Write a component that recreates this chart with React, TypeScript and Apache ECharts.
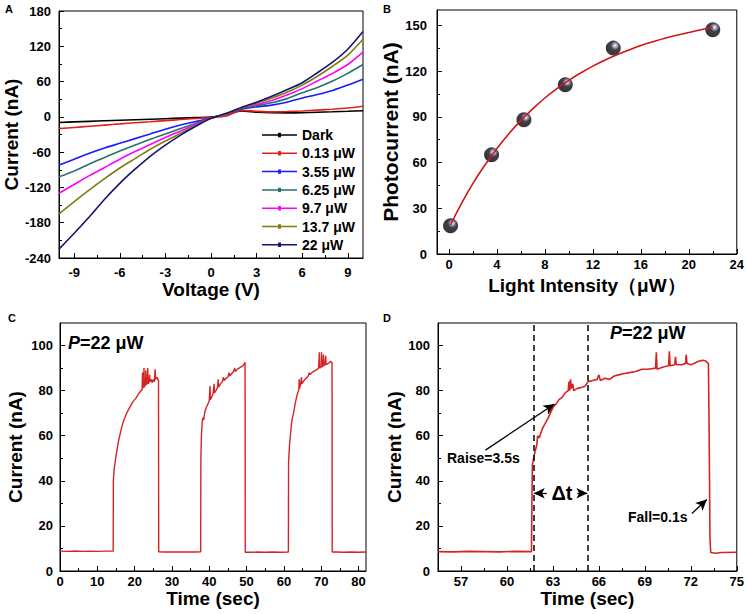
import React, { useEffect, useRef } from "react";
import * as echarts from "echarts";

const FONT = '"Liberation Sans", Arial, Helvetica, sans-serif';

// ---------- Panel A: I-V curves ----------
const voltages = [-10, -9, -8, -7, -6, -5, -4, -3, -2, -1, 0, 1, 2, 3, 4, 5, 6, 7, 8, 9, 10];
const ivNames = ["Dark", "0.13 μW", "3.55 μW", "6.25 μW", "9.7 μW", "13.7 μW", "22 μW"];
const ivColors = ["#000000", "#e0201c", "#1a1aff", "#2a7070", "#ff00ff", "#7d7d0e", "#14146e"];
const ivDark = [-9.5, -8.5, -7.6, -6.7, -5.8, -4.9, -4, -3.1, -2.2, -1.3, -0.5, 4, 10, 8, 7, 6.8, 7, 7.8, 8.6, 9.5, 10.5];
const iv013 = [-20, -18, -16, -14, -12, -10, -8.2, -6.4, -4.6, -2.8, -1, 1.5, 11, 9.5, 8.5, 9, 10, 11.5, 13, 15, 18];
const iv355 = [-82, -72, -62, -53, -45, -37, -29, -21, -14, -8, -2.5, 5, 13, 17, 20, 25, 32, 38, 45, 54, 64];
const iv625 = [-102, -92, -80, -69, -58, -48, -38, -29, -20, -11, -2.5, 5, 14, 19, 24, 31, 41, 50, 61, 74, 89];
const iv97 = [-130, -115, -100, -86, -72, -59, -47, -35, -24, -13, -2.5, 5, 15, 21, 28, 37, 48, 61, 74, 89, 110];
const iv137 = [-165, -144, -124, -105, -87, -71, -55, -41, -28, -15, -2.5, 5, 15, 23, 32, 42, 54, 69, 86, 105, 132];
const iv22 = [-225, -198, -170, -140, -113, -89, -67, -48, -31, -16, -2.5, 6, 16, 25, 35, 46, 58, 75, 93, 115, 145];
const ivValues = [ivDark, iv013, iv355, iv625, iv97, iv137, iv22];
const aXTicks = [-9, -6, -3, 0, 3, 6, 9];
const aYTicks = [-240, -180, -120, -60, 0, 60, 120, 180];

// ---------- Panel B: photocurrent vs light intensity ----------
const lightIntensity = [0.13, 3.55, 6.25, 9.7, 13.7, 22];
const photocurrent = [18.5, 65, 88, 111, 135, 147];
const fitIntensity = [0.13, 1, 2, 3, 4, 5, 6, 7, 8, 9, 10, 11, 12, 13, 14, 15, 16, 17, 18, 19, 20, 21, 22];
const fitCurrent = [19, 32.5, 46.3, 58.4, 69.2, 78.9, 87.6, 95.3, 102.3, 108.4, 113.9, 118.8, 123.2, 127.1, 130.7, 133.8, 136.7, 139.2, 141.5, 143.5, 145.3, 147, 148.5];
const bXTicks = [0, 4, 8, 12, 16, 20, 24];
const bYTicks = [0, 30, 60, 90, 120, 150];

// ---------- Panel C: on/off cycles ----------
const cTrace = [
  [0, 8.8], [2, 8.7], [4, 8.9], [6, 8.7], [8, 8.8], [10, 8.7], [12, 8.8], [14.25, 8.8],
  [14.3, 40], [14.5, 45], [15, 51], [15.5, 56], [16, 60], [16.5, 63.5], [17, 66.5], [17.5, 68.5], [18, 70.5],
  [18.5, 72], [19, 73.5], [19.5, 75], [20, 76], [20.5, 77], [21, 78.5], [21.5, 79.5], [22, 80.5], [22.1, 88],
  [22.2, 81], [22.4, 82], [22.5, 90], [22.6, 81.5], [22.9, 83], [23.0, 89], [23.1, 82.5], [23.4, 84], [23.5, 90],
  [23.6, 83], [23.9, 84], [24.0, 87], [24.1, 84], [24.5, 85], [24.7, 83.5], [25.0, 85], [25.3, 84], [25.5, 89.5],
  [25.6, 85], [26.0, 86], [26.2, 85], [26.4, 84.5], [26.45, 8.5],
  [28, 8.4], [30, 8.5], [32, 8.4], [34, 8.5], [36, 8.4], [37.7, 8.5],
  [37.75, 50], [37.9, 60], [38.1, 66], [38.3, 68], [38.5, 67], [38.8, 70.5], [39.2, 72.5], [39.6, 74], [40, 75.5],
  [40.2, 82], [40.3, 76], [40.6, 77], [41.0, 78.5], [41.3, 83], [41.4, 79], [41.8, 80], [42.2, 81.5], [42.4, 85],
  [42.5, 81.5], [43, 83], [43.5, 84], [43.8, 86], [44, 84.5], [44.5, 85.5], [45, 86], [45.3, 88], [45.5, 86.5],
  [46, 87.5], [46.5, 88.5], [46.8, 90], [47, 88.5], [47.5, 89.5], [48, 90], [48.5, 90.5], [49, 91], [49.4, 92],
  [49.6, 92.5], [49.65, 8.3],
  [51, 8.3], [53, 8.4], [55, 8.3], [57, 8.4], [59, 8.3], [61.2, 8.4],
  [61.25, 48], [61.5, 56], [61.8, 61], [62.0, 65], [62.3, 68], [62.7, 71], [63.0, 74], [63.3, 76.5], [63.7, 79],
  [64.0, 80.5], [64.1, 85], [64.2, 81], [64.5, 83], [64.7, 86], [64.8, 83], [65.2, 84], [65.6, 85], [66, 85.5],
  [66.5, 86.5], [66.8, 88], [67, 87], [67.5, 88], [68, 88.5], [68.5, 89], [69, 89.5], [69.3, 90], [69.5, 97],
  [69.6, 90], [70, 90.5], [70.1, 97], [70.2, 90.5], [70.5, 91], [70.6, 96], [70.7, 91], [71, 91.5], [71.2, 95.5],
  [71.3, 91.5], [71.8, 92], [72.2, 92.5], [72.5, 93], [72.9, 92.5], [72.95, 8.4],
  [74, 8.4], [76, 8.3], [78, 8.4], [80, 8.3], [82, 8.4],
];
const cXTicks = [0, 10, 20, 30, 40, 50, 60, 70, 80];
const cYTicks = [0, 20, 40, 60, 80, 100];

// ---------- Panel D: single cycle ----------
const dTrace = [
  [55.5, 8.6], [56.5, 8.5], [57.5, 8.7], [58.5, 8.6], [59.5, 8.5], [60.5, 8.7], [61.6, 8.6],
  [61.63, 30], [61.66, 47], [61.8, 52], [61.95, 56], [62.0, 60], [62.1, 59], [62.3, 63], [62.5, 65.5], [62.7, 68],
  [62.9, 71], [63.05, 73], [63.2, 74], [63.4, 76], [63.6, 77], [63.8, 79], [64.0, 80], [64.05, 84], [64.1, 80],
  [64.15, 85], [64.2, 81], [64.3, 83], [64.35, 80], [64.6, 81], [64.9, 81.5], [65.1, 82], [65.3, 84], [65.6, 84.5],
  [65.9, 85], [66.0, 87], [66.1, 84.5], [66.4, 85.5], [66.7, 85], [67.0, 86.5], [67.3, 87], [67.6, 87.5], [68.0, 88],
  [68.4, 88.5], [68.8, 89.5], [69.2, 89.5], [69.7, 90], [69.75, 97], [69.8, 89.5], [70.2, 90.5], [70.55, 91],
  [70.6, 97.5], [70.65, 91], [70.95, 91.5], [71.0, 95], [71.05, 91.5], [71.4, 91.5], [71.65, 92], [71.7, 96],
  [71.75, 92], [72.0, 91.5], [72.2, 92], [72.5, 93], [72.8, 93.5], [73.0, 93], [73.15, 92], [73.2, 60], [73.25, 15],
  [73.3, 8.2], [73.6, 7.9], [74, 8.2], [75, 8.3],
];
const dXTicks = [57, 60, 63, 66, 69, 72, 75];
const dYTicks = [0, 20, 40, 60, 80, 100];
const dDashedTimes = [61.75, 65.25];
const dDeltaY = 34.5;
const dDeltaArrows = [[62.6, 61.75], [64.6, 65.25]];
const dRaiseArrow = [[58.6, 53.6], [63.1, 74.1]];
const dFallArrow = [[72.07, 25.5], [73.05, 31.7]];

const RED = "#d42424";
const LEGEND_ICON = "path://M0,1.5 L36,1.5 L36,3 L0,3 Z M16.5,0 L19.5,0 L19.5,4.5 L16.5,4.5 Z";

function minorOf(ticks: number[], min: number, max: number) {
  const out: number[] = [];
  const step = ticks[1] - ticks[0];
  const first = ticks[0] - step / 2;
  for (let v = first; v < max + 1e-9; v += step) {
    if (v > min + 1e-9 && v < max - 1e-9) out.push(v);
  }
  return out;
}

function axes(
  dim: "x" | "y",
  gridIndex: number,
  min: number,
  max: number,
  ticks: number[],
  labelMargin: number,
  name: string,
  nameGap: number,
  nameSize: number
) {
  const major = {
    type: "value",
    gridIndex,
    min,
    max,
    position: dim === "x" ? "bottom" : "left",
    name,
    nameLocation: "middle",
    nameGap,
    nameTextStyle: { fontFamily: FONT, fontWeight: "bold", fontSize: nameSize, color: "#000" },
    axisLine: { show: true, onZero: false, lineStyle: { color: "#000", width: 1 } },
    axisTick: { show: true, inside: true, length: 5, customValues: ticks, lineStyle: { color: "#000", width: 1 } },
    axisLabel: { customValues: ticks, margin: labelMargin, fontFamily: FONT, fontWeight: "bold", fontSize: 13, color: "#000" },
    splitLine: { show: false },
  };
  const minor = {
    type: "value",
    gridIndex,
    min,
    max,
    position: dim === "x" ? "bottom" : "left",
    axisLine: { show: false, onZero: false },
    axisTick: { show: true, inside: true, length: 3, customValues: minorOf(ticks, min, max), lineStyle: { color: "#000", width: 1 } },
    axisLabel: { show: false },
    splitLine: { show: false },
  };
  return [major, minor];
}

const textStyle = (size: number) => ({ fontFamily: FONT, fontWeight: "bold", fontSize: size, fill: "#000" });

const pText = (x: number, y: number) => ({
  type: "text",
  x,
  y,
  style: {
    text: "{i|P}{b|=22 μW}",
    verticalAlign: "middle",
    rich: {
      i: { fontFamily: FONT, fontWeight: "bold", fontStyle: "italic", fontSize: 18, fill: "#000" },
      b: { fontFamily: FONT, fontWeight: "bold", fontSize: 18, fill: "#000" },
    },
  },
});

export default function App() {
  const ref = useRef<HTMLDivElement>(null);
  useEffect(() => {
    if (!ref.current) return;
    const chart = echarts.init(ref.current, undefined, { renderer: "svg" });

    const grids = [
      { left: 59, top: 11, width: 304, height: 247 },
      { left: 437, top: 10, width: 300, height: 244 },
      { left: 60, top: 323, width: 306, height: 248 },
      { left: 438, top: 323, width: 299, height: 248 },
    ].map((g) => ({ ...g, show: true, borderColor: "#000", borderWidth: 1, backgroundColor: "transparent" }));

    const xAxis = [
      ...axes("x", 0, -10, 10, aXTicks, 8, "Voltage (V)", 17, 19),
      ...axes("x", 1, -1, 24, bXTicks, 4, "Light Intensity（μW）", 22, 19),
      ...axes("x", 2, 0, 82, cXTicks, 4, "Time (sec)", 13, 19),
      ...axes("x", 3, 55.5, 75, dXTicks, 4, "Time (sec)", 13, 19),
    ];
    const yAxis = [
      ...axes("y", 0, -240, 180, aYTicks, 8, "Current (nA)", 36, 19),
      ...axes("y", 1, 0, 160, bYTicks, 10, "Photocurrent (nA)", 36, 21),
      ...axes("y", 2, 0, 110, cYTicks, 7, "Current (nA)", 35, 19),
      ...axes("y", 3, 0, 110, dYTicks, 8, "Current (nA)", 28, 19),
    ];

    const ivSeries = ivNames.map((n, i) => ({
      name: n,
      type: "line",
      xAxisIndex: 0,
      yAxisIndex: 0,
      data: voltages.map((v, k) => [v, ivValues[i][k]]),
      smooth: 0.25,
      symbol: "circle",
      symbolSize: 3,
      showSymbol: false,
      lineStyle: { color: ivColors[i], width: 1.6 },
      itemStyle: { color: ivColors[i] },
      z: 2 + i,
    }));

    const arrowLine = (a: number[], b: number[]) => [
      { coord: a, symbol: "none" },
      { coord: b, symbol: "arrow", symbolSize: [8, 11] },
    ];

    const option: any = {
      animation: false,
      backgroundColor: "#fff",
      grid: grids,
      xAxis,
      yAxis,
      legend: {
        data: ivNames.map((n) => ({ name: n, icon: LEGEND_ICON })),
        orient: "vertical",
        left: 257,
        top: 122,
        itemWidth: 35,
        itemHeight: 4.5,
        itemGap: 2.3,
        textStyle: { fontFamily: FONT, fontWeight: "bold", fontSize: 14, lineHeight: 16, color: "#000" },
        selectedMode: false,
      },
      series: [
        ...ivSeries,
        {
          type: "line",
          xAxisIndex: 2,
          yAxisIndex: 2,
          data: fitIntensity.map((x, i) => [x, fitCurrent[i]]),
          smooth: true,
          showSymbol: false,
          lineStyle: { color: "#d41414", width: 1.6 },
          z: 5,
        },
        {
          type: "scatter",
          xAxisIndex: 2,
          yAxisIndex: 2,
          data: lightIntensity.map((x, i) => [x, photocurrent[i]]),
          symbol: "circle",
          symbolSize: 15,
          itemStyle: {
            color: new echarts.graphic.RadialGradient(0.62, 0.33, 0.7, [
              { offset: 0, color: "#ffffff" },
              { offset: 0.16, color: "#a0a0c0" },
              { offset: 0.42, color: "#101020" },
              { offset: 1, color: "#000000" },
            ]),
          },
          z: 4,
        },
        {
          type: "line",
          xAxisIndex: 4,
          yAxisIndex: 4,
          data: cTrace,
          showSymbol: false,
          lineStyle: { color: RED, width: 1.4 },
        },
        {
          type: "line",
          xAxisIndex: 6,
          yAxisIndex: 6,
          data: dTrace,
          showSymbol: false,
          lineStyle: { color: RED, width: 1.6 },
          markLine: {
            silent: true,
            symbol: ["none", "none"],
            label: { show: false },
            lineStyle: { color: "#000", width: 1.3, type: "solid" },
            data: [
              ...dDashedTimes.map((t) => ({ xAxis: t, lineStyle: { color: "#111", width: 1.6, type: [6, 4] } })),
              arrowLine([dDeltaArrows[0][0], dDeltaY], [dDeltaArrows[0][1], dDeltaY]),
              arrowLine([dDeltaArrows[1][0], dDeltaY], [dDeltaArrows[1][1], dDeltaY]),
              arrowLine(dRaiseArrow[0], dRaiseArrow[1]),
              arrowLine(dFallArrow[0], dFallArrow[1]),
            ],
          },
        },
      ],
      graphic: [
        { type: "text", left: 5, top: 3, style: { text: "A", ...textStyle(11) } },
        { type: "text", left: 383, top: 3, style: { text: "B", ...textStyle(11) } },
        { type: "text", left: 8, top: 312, style: { text: "C", ...textStyle(11) } },
        { type: "text", left: 383, top: 312, style: { text: "D", ...textStyle(11) } },
        pText(68, 343),
        pText(610, 333),
        { type: "text", x: 447, y: 458, style: { text: "Raise=3.5s", verticalAlign: "middle", ...textStyle(14) } },
        { type: "text", x: 628, y: 517, style: { text: "Fall=0.1s", verticalAlign: "middle", ...textStyle(14) } },
        { type: "text", x: 562, y: 493, style: { text: "Δt", align: "center", verticalAlign: "middle", ...textStyle(20) } },
      ],
    };
    chart.setOption(option);
    return () => chart.dispose();
  }, []);
  return (
    <div
      ref={ref}
      style={{ position: "fixed", left: 0, top: 0, width: 747, height: 614, background: "#fff" }}
    />
  );
}
